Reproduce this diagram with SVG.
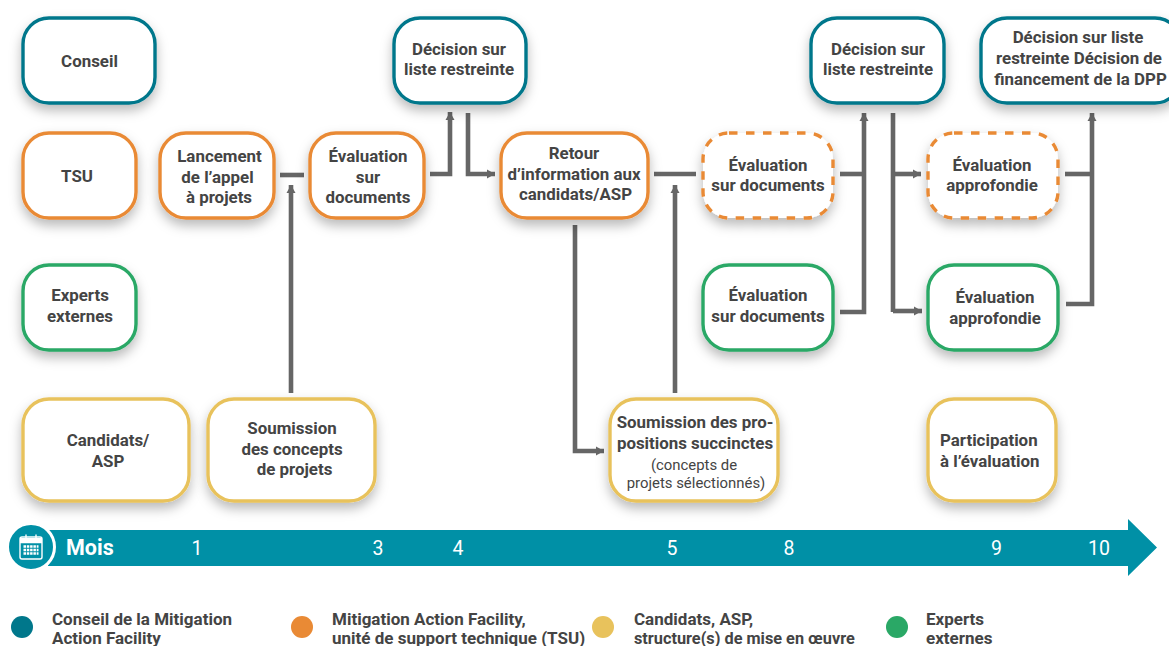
<svg xmlns="http://www.w3.org/2000/svg" width="1169" height="646" viewBox="0 0 1169 646">
<style>
text{font-family:Roboto,"Liberation Sans",sans-serif;font-weight:700;font-size:16.9px;fill:#444;text-anchor:middle}
.n{fill:#fff;stroke-width:3.4;filter:url(#s)}
.b{stroke:#00778b}.o{stroke:#e98a35}.g{stroke:#2aa866}.y{stroke:#e8c25c}
.d{stroke-dasharray:8.500 8.500}
.c{fill:none;stroke:#666;stroke-width:4.600}
.r{font-weight:400;font-size:14.900px}
.t{font-weight:400;font-size:19.5px;fill:#fff}
.l{text-anchor:start;font-size:17px}
</style>
<defs>
<filter id="s" x="-20%" y="-20%" width="140%" height="150%"><feDropShadow dx="0" dy="6" stdDeviation="6" flood-color="#000" flood-opacity=".27"/></filter>
<marker id="a" markerUnits="userSpaceOnUse" markerWidth="10" markerHeight="10" refX="8" refY="5" orient="auto"><path d="M0 .5L8 5L0 9.500Z" fill="#666"/></marker>
</defs>
<g id="connectors">
<path class="c" d="M280 175H304"/>
<path class="c" marker-end="url(#a)" d="M291 393V185"/>
<path class="c" marker-end="url(#a)" d="M430 174H450V112"/>
<path class="c" marker-end="url(#a)" d="M468 113V174H495"/>
<path class="c" d="M654 174H696"/>
<path class="c" marker-end="url(#a)" d="M675 393V185"/>
<path class="c" marker-end="url(#a)" d="M575 225V451H604"/>
<path class="c" d="M840 174H864"/>
<path class="c" marker-end="url(#a)" d="M840 312H864V113"/>
<path class="c" d="M893 113V312"/>
<path class="c" marker-end="url(#a)" d="M893 174H921"/>
<path class="c" marker-end="url(#a)" d="M893 311H922"/>
<path class="c" d="M1065 174H1092"/>
<path class="c" marker-end="url(#a)" d="M1066 304H1092V113"/>
</g>
<g id="conseil"><rect class="n b" x="23" y="18" width="132" height="85" rx="26"/><text x="89.500" y="67">Conseil</text></g>
<g id="decision1"><rect class="n b" x="394" y="18" width="132" height="85" rx="26"/><text x="459" y="55">Décision sur</text><text x="459" y="75">liste restreinte</text></g>
<g id="decision2"><rect class="n b" x="811" y="18" width="133" height="85" rx="26"/><text x="878" y="55">Décision sur</text><text x="878" y="75">liste restreinte</text></g>
<g id="decision3"><rect class="n b" x="981" y="18" width="200" height="85" rx="26"/><text x="1078" y="43">Décision sur liste</text><text x="1079" y="64">restreinte Décision de</text><text x="1080.500" y="85">financement de la DPP</text></g>
<g id="tsu"><rect class="n o" x="23" y="133" width="113" height="85" rx="26"/><text x="77" y="182">TSU</text></g>
<g id="lancement"><rect class="n o" x="160" y="133" width="114" height="85" rx="26"/><text x="219.500" y="162">Lancement</text><text x="217.500" y="183">de l’appel</text><text x="219" y="203">à projets</text></g>
<g id="evaluation1"><rect class="n o" x="310" y="133" width="114" height="85" rx="26"/><text x="368" y="162">Évaluation</text><text x="368" y="183">sur</text><text x="368" y="203">documents</text></g>
<g id="retour"><rect class="n o" x="501" y="133" width="147" height="85" rx="26"/><text x="574" y="159">Retour</text><text x="574" y="180">d’information aux</text><text x="575.500" y="200">candidats/ASP</text></g>
<g id="evaluation2"><rect class="n o d" x="703" y="133" width="130" height="85" rx="26"/><text x="768" y="171">Évaluation</text><text x="768" y="191">sur documents</text></g>
<g id="approfondie1"><rect class="n o d" x="928" y="133" width="130" height="85" rx="26"/><text x="992" y="171">Évaluation</text><text x="992" y="191">approfondie</text></g>
<g id="experts"><rect class="n g" x="23" y="265" width="113" height="85" rx="26"/><text x="80" y="301">Experts</text><text x="80" y="322">externes</text></g>
<g id="evaluation3"><rect class="n g" x="703" y="265" width="130" height="85" rx="26"/><text x="768" y="301">Évaluation</text><text x="768" y="322">sur documents</text></g>
<g id="approfondie2"><rect class="n g" x="928" y="265" width="130" height="85" rx="26"/><text x="995" y="303">Évaluation</text><text x="995" y="324">approfondie</text></g>
<g id="candidats"><rect class="n y" x="23" y="399" width="166" height="102" rx="26"/><text x="108" y="446">Candidats/</text><text x="108" y="467">ASP</text></g>
<g id="soumission1"><rect class="n y" x="208" y="399" width="167" height="102" rx="26"/><text x="292" y="434">Soumission</text><text x="292" y="455">des concepts</text><text x="294.500" y="475">de projets</text></g>
<g id="soumission2"><rect class="n y" x="610" y="399" width="168" height="102" rx="26"/><text x="695" y="428">Soumission des pro-</text><text x="695" y="449">positions succinctes</text><text class="r" x="694" y="470">(concepts de</text><text class="r" x="696" y="488">projets sélectionnés)</text></g>
<g id="participation"><rect class="n y" x="928" y="399" width="128" height="102" rx="26"/><text x="940" y="446" style="text-anchor:start">Participation</text><text x="940" y="467" style="text-anchor:start">à l’évaluation</text></g>
<g id="timeline">
<path d="M48 530H1128V519L1157 547.500L1128 576V566H48Z" fill="#0090a6"/>
<circle cx="31" cy="547" r="23.500" fill="#0090a6" stroke="#fff" stroke-width="3"/>
<g fill="none" stroke="#fff" stroke-width="1.400"><rect x="20" y="537" width="22" height="22" rx="2"/><path d="M20 542.500H42M26 534.500V539M36 534.500V539"/></g>
<path d="M20 540h22" stroke="#fff" stroke-width="4"/>
<path d="M23.500 546.500h15M23.500 550h15M23.500 553.500h15" stroke="#fff" stroke-width="2.400" stroke-dasharray="2.500 .8"/>
<text x="66" y="555" style="font-size:21.5px;fill:#fff;text-anchor:start">Mois</text>
<text class="t" x="197" y="555">1</text><text class="t" x="378" y="555">3</text><text class="t" x="458" y="555">4</text><text class="t" x="672" y="555">5</text><text class="t" x="789" y="555">8</text><text class="t" x="996.500" y="555">9</text><text class="t" x="1099" y="555">10</text>
</g>
<g id="legend">
<circle cx="22" cy="627" r="11" fill="#00778b"/><text class="l" x="52" y="625">Conseil de la Mitigation</text><text class="l" x="52" y="644">Action Facility</text>
<circle cx="302" cy="627" r="11" fill="#e98a35"/><text class="l" x="332" y="625">Mitigation Action Facility,</text><text class="l" x="332" y="644">unité de support technique (TSU)</text>
<circle cx="603" cy="627" r="11" fill="#e8c25c"/><text class="l" x="634" y="625">Candidats, ASP,</text><text class="l" x="634" y="644" style="font-size:16.3px">structure(s) de mise en œuvre</text>
<circle cx="897" cy="627" r="11" fill="#2aa866"/><text class="l" x="926" y="625">Experts</text><text class="l" x="926" y="644">externes</text>
</g>
</svg>
